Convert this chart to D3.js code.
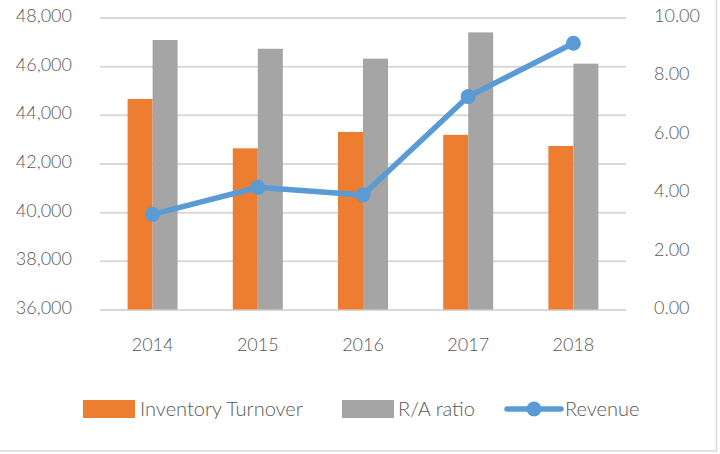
<!DOCTYPE html>
<html><head><meta charset="utf-8">
<script src="https://cdn.jsdelivr.net/npm/d3@7"></script>
<style>
body{margin:0;background:#fff}
svg{display:block}
text{font-family:Lato,"Open Sans",sans-serif;fill:#595959;font-weight:300}
</style>
</head><body><svg width="720" height="454"></svg>
<script>
const years = ["2014","2015","2016","2017","2018"];
const inventoryTurnover = [7.21, 5.52, 6.08, 5.98, 5.60];
const raRatio = [9.23, 8.93, 8.59, 9.49, 8.42];
const revenue = [39910, 41020, 40710, 44750, 46940];
const leftTicks = [36000,38000,40000,42000,44000,46000,48000];
const rightTicks = [0,2,4,6,8,10];
const seriesNames = ["Inventory Turnover","R/A ratio","Revenue"];
const colors = ["#ED7D31","#A5A5A5","#5B9BD5"];

const svg = d3.select("svg");
const L = 100, R = 626, T = 17.5, B = 309.5;

// border (only right/bottom visible)
svg.append("rect").attr("x",-2).attr("y",-2).attr("width",718.5).attr("height",453)
  .attr("fill","none").attr("stroke","#d9d9d9").attr("stroke-width",1.5);

const x = d3.scaleBand().domain(years).range([L,R]).padding(0);
const yL = d3.scaleLinear().domain([36000,48000]).range([B,T]);
const yR = d3.scaleLinear().domain([0,10]).range([B,T]);

// gridlines
const grid = svg.append("g").attr("transform",`translate(${L},0)`)
  .call(d3.axisLeft(yL).tickValues(leftTicks).tickSize(-(R-L)).tickFormat(""));
grid.select(".domain").remove();
grid.selectAll("line").attr("stroke","#d9d9d9").attr("stroke-width",2);

const ff = "Lato, 'Open Sans', sans-serif";
// left axis labels
const ax = svg.append("g").attr("transform",`translate(72,0)`)
  .call(d3.axisLeft(yL).tickValues(leftTicks).tickSize(0).tickPadding(0).tickFormat(d3.format(",")));
ax.select(".domain").remove();
ax.selectAll("text").attr("font-size",18).attr("dy",null).attr("y",4).attr("fill","#595959")
  .style("font-family",ff).style("font-weight",300);

// right axis labels
const axr = svg.append("g").attr("transform",`translate(654,0)`)
  .call(d3.axisRight(yR).tickValues(rightTicks).tickSize(0).tickPadding(0).tickFormat(d3.format(".2f")));
axr.select(".domain").remove();
axr.selectAll("text").attr("font-size",18).attr("dy",null).attr("y",4).attr("fill","#595959")
  .style("font-family",ff).style("font-weight",300);

// x axis labels
const axb = svg.append("g").attr("transform",`translate(0,${B})`)
  .call(d3.axisBottom(x).tickSize(0).tickPadding(0));
axb.select(".domain").remove();
axb.selectAll("text").attr("font-size",18).attr("dy",null).attr("y",41.5).attr("fill","#595959")
  .style("font-family",ff).style("font-weight",300);

// bars
const barW = 25;
const cx = d => x(d) + x.bandwidth()/2;
svg.append("g").selectAll("rect").data(years).join("rect")
  .attr("x",d=>cx(d)-barW).attr("width",barW)
  .attr("y",(d,i)=>yR(inventoryTurnover[i])).attr("height",(d,i)=>B-yR(inventoryTurnover[i]))
  .attr("fill",colors[0]);
svg.append("g").selectAll("rect").data(years).join("rect")
  .attr("x",d=>cx(d)).attr("width",barW)
  .attr("y",(d,i)=>yR(raRatio[i])).attr("height",(d,i)=>B-yR(raRatio[i]))
  .attr("fill",colors[1]);

// line
const line = d3.line().x((d,i)=>cx(years[i])).y(d=>yL(d));
svg.append("path").datum(revenue).attr("d",line).attr("fill","none")
  .attr("stroke",colors[2]).attr("stroke-width",5.5).attr("stroke-linejoin","round").attr("stroke-linecap","round");
svg.append("g").selectAll("circle").data(revenue).join("circle")
  .attr("cx",(d,i)=>cx(years[i])).attr("cy",d=>yL(d)).attr("r",7.5).attr("fill",colors[2]);

// legend
const lg = svg.append("g");
const ly = 409;
lg.append("rect").attr("x",83).attr("y",400).attr("width",52).attr("height",18).attr("fill",colors[0]);
lg.append("text").attr("x",140).attr("y",ly+6.5).attr("font-size",20).text(seriesNames[0]);
lg.append("rect").attr("x",342).attr("y",400).attr("width",52).attr("height",18).attr("fill",colors[1]);
lg.append("text").attr("x",398).attr("y",ly+6.5).attr("font-size",20).text(seriesNames[1]);
lg.append("line").attr("x1",507).attr("x2",561).attr("y1",ly).attr("y2",ly)
  .attr("stroke",colors[2]).attr("stroke-width",5.5).attr("stroke-linecap","round");
lg.append("circle").attr("cx",534).attr("cy",ly).attr("r",7.5).attr("fill",colors[2]);
lg.append("text").attr("x",565).attr("y",ly+6.5).attr("font-size",20).text(seriesNames[2]);
</script>
</body></html>
